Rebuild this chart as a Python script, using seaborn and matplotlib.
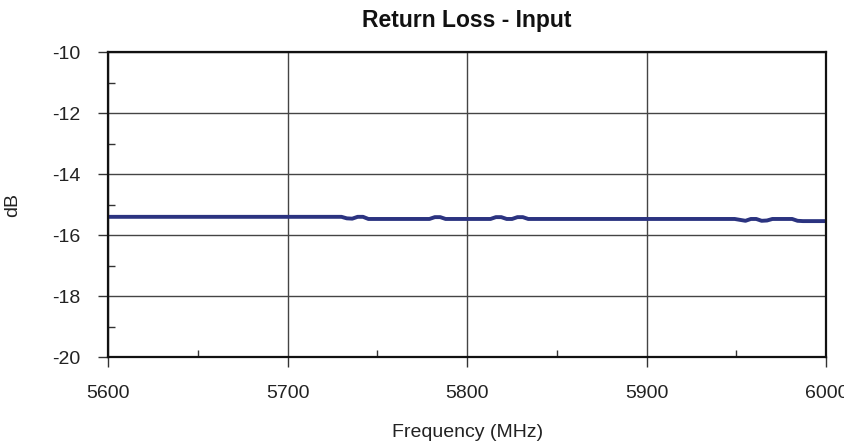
import numpy as np
import pandas as pd
import matplotlib.pyplot as plt
import seaborn as sns
from matplotlib.ticker import MultipleLocator

# values
freq_mhz = [5600, 5730, 5733, 5736, 5739, 5742, 5745, 5779, 5782, 5785, 5788,
            5813, 5816, 5819, 5822, 5825, 5828, 5831, 5834, 5837,
            5949, 5952, 5955, 5958, 5961, 5964, 5967, 5970, 5981, 5984, 5987, 6000]
return_loss_db = [-15.40, -15.40, -15.45, -15.46, -15.40, -15.40, -15.47, -15.47, -15.41, -15.41, -15.47,
                  -15.47, -15.41, -15.41, -15.47, -15.47, -15.41, -15.41, -15.47, -15.47,
                  -15.47, -15.50, -15.53, -15.47, -15.47, -15.53, -15.52, -15.47, -15.47, -15.53, -15.54, -15.54]

x_ticks = [5600, 5700, 5800, 5900, 6000]
y_ticks = [-20, -18, -16, -14, -12, -10]

df = pd.DataFrame({'Frequency': freq_mhz, 'dB': return_loss_db})

sns.set_style("white")
plt.rcParams['font.family'] = ['Liberation Sans', 'DejaVu Sans']
plt.rcParams['axes.unicode_minus'] = False

fig = plt.figure(figsize=(8.44, 4.41), dpi=100)
ax = fig.add_axes([0.128, 0.190, 0.851, 0.692])

sns.lineplot(data=df, x='Frequency', y='dB', ax=ax, color='#2b3380', linewidth=2.8)

ax.set_xlim(5600, 6000)
ax.set_ylim(-20, -10)
ax.set_xticks(x_ticks)
ax.set_yticks(y_ticks)
ax.xaxis.set_minor_locator(MultipleLocator(50))
ax.yaxis.set_minor_locator(MultipleLocator(1))

ax.grid(True, which='major', color='#444444', linewidth=1.0)
ax.set_axisbelow(True)
for s in ax.spines.values():
    s.set_color('#111111')
    s.set_linewidth(1.6)

ax.tick_params(axis='both', which='major', direction='out', length=7, width=1.0,
               color='#333333', labelsize=14, pad=13, labelcolor='#222222')
ax.tick_params(axis='both', which='minor', direction='in', length=5, width=1.0,
               color='#333333')
ax.tick_params(axis='x', which='both', bottom=True)
ax.tick_params(axis='y', which='both', left=True)
ax.tick_params(axis='y', which='major', pad=13)

ax.set_title('Return Loss - Input', fontsize=16.5, fontweight='bold', pad=18, color='#111111')
ax.set_xlabel('Frequency (MHz)', fontsize=14, labelpad=16, color='#222222')
ax.set_ylabel('dB', fontsize=14, labelpad=22, color='#222222')

fig.savefig('out.png', dpi=100)
